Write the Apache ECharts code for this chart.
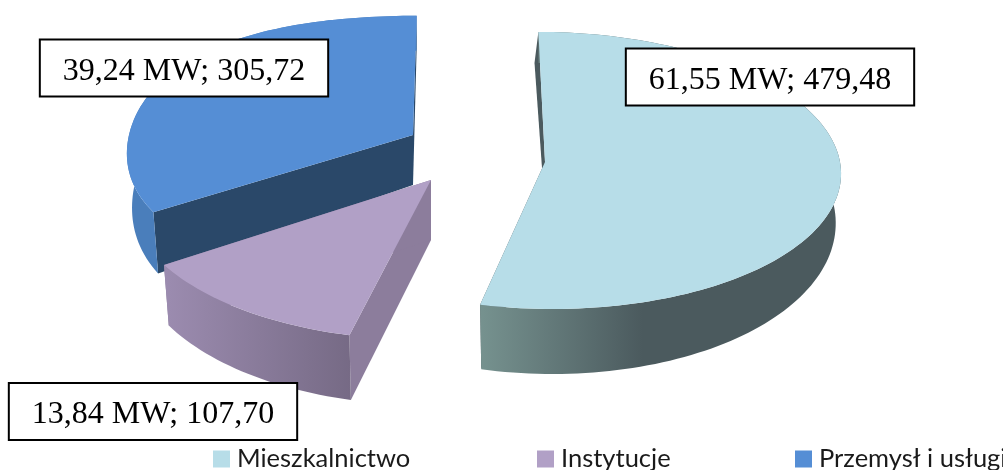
<!DOCTYPE html>
<html>
<head>
<meta charset="utf-8">
<style>html,body{margin:0;padding:0;background:#fff}#chart{width:1003px;height:470px}</style>
<script src="https://cdn.jsdelivr.net/npm/echarts@6/dist/echarts.min.js"></script>
</head>
<body>
<div id="chart"></div>
<script>
// Installed capacity and its energy figure per sector
const categories = ['Mieszkalnictwo', 'Instytucje', 'Przemysł i usługi'];
const powerMW = [61.55, 13.84, 39.24];
const energy = [479.48, 107.70, 305.72];

const topColors = ['#b7dde8', '#b1a0c6', '#558ed5'];

// Projection of each exploded slice onto the page
// a: apex, f/g: horizontal and vertical radius, p: perspective, s: shear, b: rim bulge,
// d0/d1: wall height at the side and its growth towards the viewer
const sliceViews = [
  { ax: 545, ay: 162, f: 295, g: 138, p: 0.061, s: -7, b: 0, d0: 48, d1: 17, apexDepth: 48, lean: -4,
    wall: [[0, '#76928f'], [0.45, '#4b5a5e'], [1, '#4b5a5e']], cut: '#4b5a5e' },
  { ax: 431, ay: 180, f: 304, g: 150, p: 0.061, s: 7, b: 0, d0: 55, d1: 10, apexDepth: 60, lean: 0,
    wall: [[0, '#9c8cb0'], [1, '#766a85']], cut: '#8c7d9c' },
  { ax: 413, ay: 135, f: 284, g: 130, p: 0.09, s: 4, b: 0.035, d0: 52, d1: 17, apexDepth: 50, lean: 0,
    wall: [[0, '#4a7ebb'], [1, '#4a7ebb']], cut: '#2a4869' }
];
// Top centre of each value box
const labelBoxes = [
  { x: 770, y: 49.5 }, { x: 153, y: 384 }, { x: 184, y: 40.5 }
];
// The lower rim of a slice draws in slightly towards its apex
const baseContraction = 0.018;

const total = powerMW.reduce((a, b) => a + b, 0);
const DEG = Math.PI / 180;
// Slice boundaries, clockwise from twelve o'clock
const bounds = [];
powerMW.reduce((acc, v) => { bounds.push([acc, acc + v / total * 360]); return acc + v / total * 360; }, 0);

function project(v, deg) {
  const sin = Math.sin(deg * DEG), cos = Math.cos(deg * DEG), w = 1 + v.p * cos;
  const r = 1 + v.b * Math.pow(Math.sin(2 * deg * DEG), 2);
  return [v.ax + r * (v.f * sin + v.s * cos) / w, v.ay - r * v.g * cos / w];
}
function wallDepth(v, deg) { return v.d0 - v.d1 * Math.cos(deg * DEG); }
function lower(v, pt, deg) {
  return [pt[0] + (v.ax - pt[0]) * baseContraction, pt[1] + wallDepth(v, deg)];
}
function arc(v, a0, a1) {
  const pts = [], n = Math.max(2, Math.ceil((a1 - a0) / 1.5));
  for (let i = 0; i <= n; i++) pts.push(a0 + (a1 - a0) * i / n);
  return pts;
}
function cutFace(v, deg, fill) {
  const o = project(v, deg), b = lower(v, o, deg), lean = v.lean * Math.max(0, Math.cos(deg * DEG));
  return { type: 'polygon', shape: { points: [
    [v.ax, v.ay], o, [b[0] + lean, b[1]], [v.ax, v.ay + v.apexDepth]
  ] }, style: { fill } };
}
function renderSlice(i) {
  return function () {
    const v = sliceViews[i], [a0, a1] = bounds[i], angles = arc(v, a0, a1);
    const rim = angles.map(a => project(v, a));
    const base = angles.map((a, k) => lower(v, rim[k], a));
    const label = powerMW[i].toFixed(2).replace('.', ',') + ' MW; ' + energy[i].toFixed(2).replace('.', ',');
    return { type: 'group', children: [
      cutFace(v, a0, v.cut), cutFace(v, a1, v.cut),
      { type: 'polygon', shape: { points: rim.concat(base.slice().reverse()) },
        style: { fill: new echarts.graphic.LinearGradient(0, 0, 1, 0, v.wall.map(w => ({ offset: w[0], color: w[1] }))) } },
      { type: 'polygon', shape: { points: [[v.ax, v.ay]].concat(rim) }, style: { fill: topColors[i] } },
      { type: 'text', z2: 10, style: {
        x: labelBoxes[i].x, y: labelBoxes[i].y, text: label, align: 'center', verticalAlign: 'top',
        font: '32px "Liberation Serif"', fill: '#000', backgroundColor: '#fff',
        borderColor: '#000', borderWidth: 2, padding: [15, 22, 8, 22]
      } }
    ] };
  };
}

const chart = echarts.init(document.getElementById('chart'), null, { renderer: 'canvas' });
// Paint back to front so the nearer slice covers the wall behind it
const paintOrder = [2, 1, 0];
const legendLeft = [208, 532, 790];
chart.setOption({
  animation: false,
  backgroundColor: '#fff',
  legend: categories.map((name, i) => ({
    data: [name], left: legendLeft[i], top: 441, icon: 'rect', itemWidth: 17, itemHeight: 17,
    selectedMode: false, textStyle: { fontFamily: 'Lato', fontSize: 25.5, color: '#1a1a1a', padding: [0, 0, 0, 2] }
  })),
  series: paintOrder.map(i => ({
    type: 'custom', name: categories[i], coordinateSystem: 'none', silent: true,
    itemStyle: { color: topColors[i] }, data: [powerMW[i]], renderItem: renderSlice(i)
  }))
});
</script>
</body>
</html>
